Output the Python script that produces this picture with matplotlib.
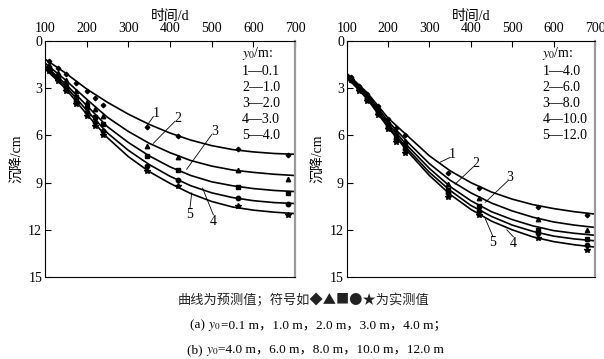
import matplotlib.pyplot as plt

plt.rcParams['font.family'] = ['Liberation Serif', 'Noto Sans CJK SC']
plt.rcParams['mathtext.fontset'] = 'stix'

# time axis of the predicted curves (d)
days = [100, 150, 200, 250, 300, 350, 400, 450, 500, 550, 600, 650, 700]

# (a) predicted settlement (cm), y0 = 0.1, 1.0, 2.0, 3.0, 4.0 m
a_curves = [
    [1.15, 2.05, 3.05, 3.9, 4.65, 5.3, 5.85, 6.3, 6.65, 6.9, 7.05, 7.15, 7.2],
    [1.4, 2.5, 3.7, 4.85, 5.75, 6.5, 7.1, 7.6, 7.95, 8.2, 8.35, 8.47, 8.55],
    [1.55, 2.75, 4.1, 5.45, 6.45, 7.3, 8.0, 8.55, 8.95, 9.2, 9.38, 9.5, 9.57],
    [1.65, 2.9, 4.4, 5.85, 6.95, 7.85, 8.6, 9.2, 9.65, 9.95, 10.15, 10.27, 10.33],
    [1.75, 3.05, 4.65, 6.15, 7.35, 8.3, 9.05, 9.7, 10.2, 10.55, 10.75, 10.88, 10.97],
]
# (b) predicted settlement (cm), y0 = 4, 6, 8, 10, 12 m
b_curves = [
    [2.05, 3.3, 4.9, 6.1, 7.3, 8.25, 9.0, 9.6, 10.05, 10.4, 10.65, 10.85, 11.0],
    [2.1, 3.4, 5.1, 6.5, 7.8, 8.85, 9.65, 10.3, 10.8, 11.2, 11.5, 11.7, 11.85],
    [2.15, 3.5, 5.25, 6.75, 8.1, 9.25, 10.15, 10.85, 11.35, 11.75, 12.05, 12.22, 12.35],
    [2.2, 3.6, 5.4, 6.95, 8.35, 9.5, 10.45, 11.15, 11.7, 12.1, 12.4, 12.58, 12.7],
    [2.3, 3.7, 5.5, 7.1, 8.55, 9.75, 10.7, 11.45, 12.0, 12.45, 12.75, 12.95, 13.1],
]

# measured points
obs_days = [110, 130, 150, 175, 200, 220, 240, 345, 420, 562, 682]
a_obs = [
    [1.3, 1.7, 2.1, 2.7, 3.2, 3.6, 4.05, 5.45, 6.05, 6.87, 7.26],
    [1.55, 2.05, 2.5, 3.2, 3.85, 4.35, 4.75, 6.66, 7.4, 8.17, 8.74],
    [1.7, 2.25, 2.8, 3.55, 4.2, 4.8, 5.3, 7.28, 8.21, 9.27, 9.65],
    [1.8, 2.4, 3.0, 3.8, 4.5, 5.15, 5.7, 7.94, 8.81, 9.97, 10.38],
    [1.9, 2.55, 3.15, 4.0, 4.75, 5.4, 5.95, 8.27, 9.21, 10.5, 11.08],
]
b_obs = [
    [2.3, 2.85, 3.35, 4.1, 4.95, 5.5, 6.0, 8.42, 9.34, 10.55, 11.08],
    [2.35, 2.95, 3.5, 4.3, 5.15, 5.8, 6.35, 9.06, 9.97, 11.29, 11.99],
    [2.4, 3.0, 3.6, 4.45, 5.3, 6.0, 6.6, 9.44, 10.5, 11.99, 12.56],
    [2.45, 3.05, 3.7, 4.55, 5.45, 6.2, 6.85, 9.65, 10.82, 12.18, 12.99],
    [2.5, 3.15, 3.8, 4.7, 5.6, 6.4, 7.1, 9.9, 11.08, 12.5, 13.3],
]

a_legend = ['1—0.1', '2—1.0', '3—2.0', '4—3.0', '5—4.0']
b_legend = ['1—4.0', '2—6.0', '3—8.0', '4—10.0', '5—12.0']

markers = ['D', '^', 's', 'o', '*']
msizes = [2.3, 3.2, 3.2, 3.2, 4.2]

# curve number labels: (text x, text y, line end x, line end y)
a_labels = [(366, 4.6, 344, 5.4), (418, 4.9, 360, 6.5), (506, 5.75, 440, 8.15),
            (504, 11.45, 478, 9.35), (448, 11.0, 452, 9.65)]
b_labels = [(356, 7.2, 326, 7.7), (412, 7.8, 362, 9.1), (495, 8.7, 435, 10.25),
            (503, 12.85, 487, 12.0), (453, 12.8, 435, 11.3)]

fig = plt.figure(figsize=(6.04, 3.59), dpi=100)
ax1 = fig.add_axes([0.0745, 0.2284, 0.414, 0.6574])
ax2 = fig.add_axes([0.574, 0.2284, 0.411, 0.6574])


def draw(ax, curves, obs, legend, labels):
    for i in range(5):
        ax.plot(days, curves[i], color='black', lw=1.2)
        ax.plot(obs_days, obs[i], linestyle='none', marker=markers[i],
                color='black', ms=msizes[i])
    for k, (tx, ty, lx, ly) in enumerate(labels):
        ax.text(tx, ty, str(k + 1), fontsize=10, ha='center', va='center')
        ax.plot([tx - 6 if k < 3 else tx, lx], [ty + 0.2 if k < 3 else ty - 0.4, ly],
                color='black', lw=0.6)
    ax.text(573, 0.8, '$y_0$/m:', fontsize=10, va='center')
    for k, s in enumerate(legend):
        ax.text(573, 1.95 + k * 1.02, s, fontsize=10, va='center')
    ax.set_xlim(100, 700)
    ax.set_ylim(15, 0)
    ax.set_xticks([100, 200, 300, 400, 500, 600, 700])
    ax.set_yticks([0, 3, 6, 9, 12, 15])
    ax.xaxis.tick_top()
    ax.xaxis.set_label_position('top')
    ax.tick_params(direction='in', labelsize=10, length=4, width=0.8, pad=2)
    ax.tick_params(axis='x', pad=4)
    ax.set_xlabel('时间/d', fontsize=10, labelpad=2)
    ax.set_ylabel('沉降/cm', fontsize=10, labelpad=4)
    ax.spines['right'].set_color('#9a9a9a')
    ax.spines['right'].set_linewidth(1.6)


draw(ax1, a_curves, a_obs, a_legend, a_labels)
draw(ax2, b_curves, b_obs, b_legend, b_labels)

fig.text(0.502, 0.163, '曲线为预测值；符号如◆▲■●★为实测值', ha='center', va='center',
         fontsize=9.5, family=['Noto Sans CJK SC', 'DejaVu Sans'], color='#222222')

renderer = fig.canvas.get_renderer()
figw = fig.bbox.width


def caption(x, y, pieces):
    # place text pieces one after another on a shared baseline
    for s in pieces:
        t = fig.text(x, y, s, fontsize=9.5, va='baseline')
        x += t.get_window_extent(renderer).width / figw


caption(0.314, 0.085, ['(a) ', '$y_0$', '=0.1 m，1.0 m，2.0 m，3.0 m，4.0 m；'])
caption(0.309, 0.017, ['(b) ', '$y_0$', '=4.0 m，6.0 m，8.0 m，10.0 m，12.0 m'])

fig.savefig('out.png', dpi=100)
